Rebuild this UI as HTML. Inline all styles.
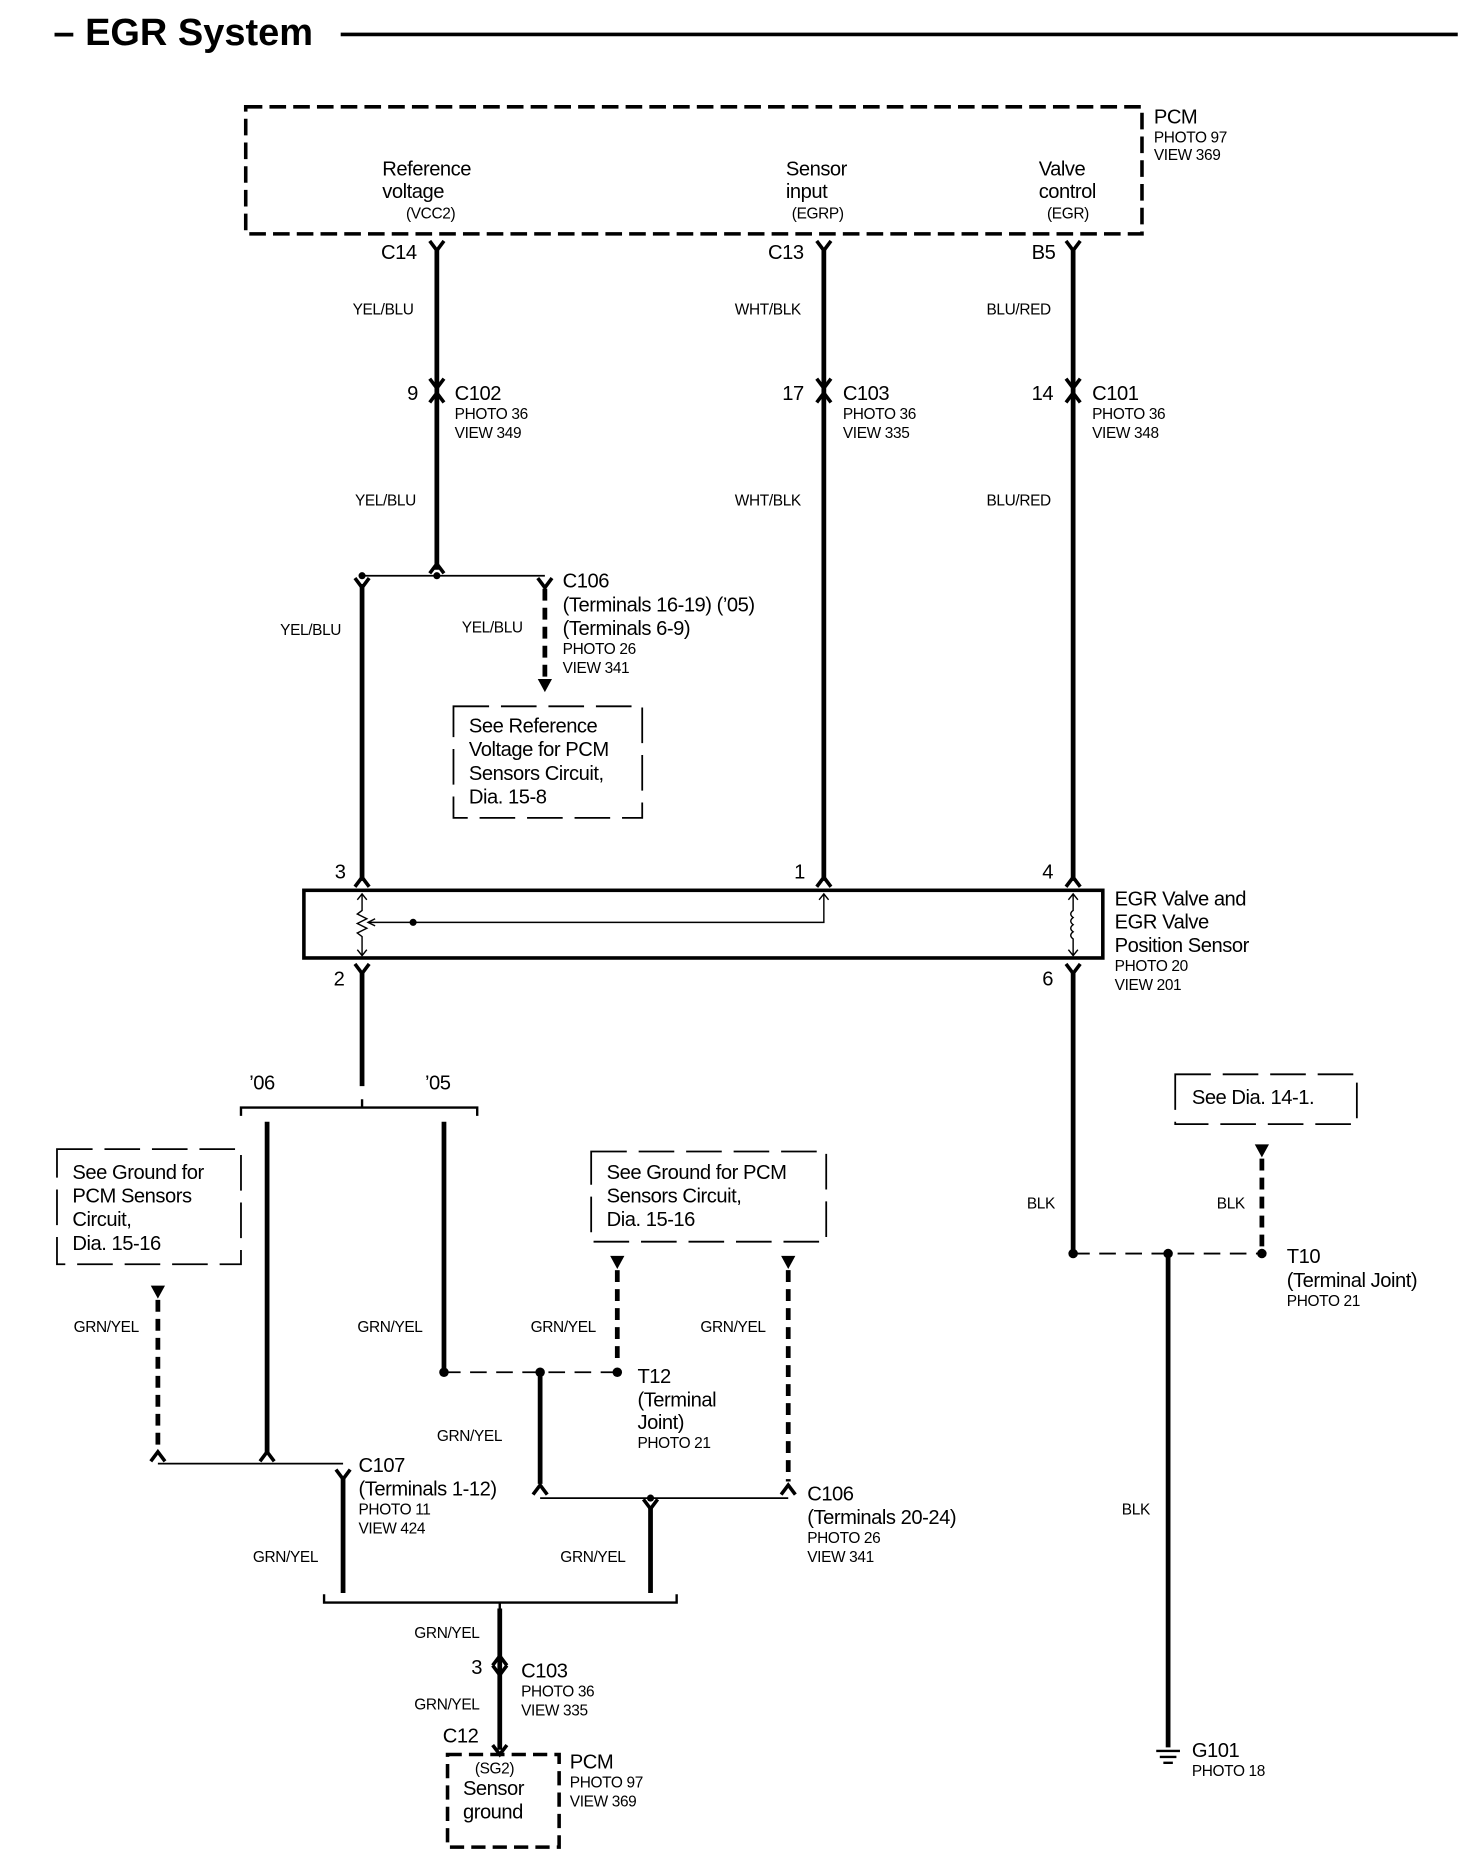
<!DOCTYPE html>
<html><head><meta charset="utf-8"><style>
html,body{margin:0;padding:0;background:#fff}
svg{display:block}
text{font-family:"Liberation Sans",Arial,sans-serif;fill:#000}
.L{font-size:17px;letter-spacing:-0.4px}.S{font-size:13px;letter-spacing:-0.3px}
</style></head><body>
<svg width="1472" height="1856" viewBox="0 0 1240 1563.5" preserveAspectRatio="none" xmlns="http://www.w3.org/2000/svg">
<defs>
<path id="fy" d="M-6,-5 L0,3 L6,-5" fill="none" stroke="#000" stroke-width="3"/>
<path id="fa" d="M-6,5 L0,-3 L6,5" fill="none" stroke="#000" stroke-width="3"/>
<path id="tri" d="M-6,0 L6,0 L0,11 Z" fill="#000"/>
</defs>
<text x="45" y="38" style="font-size:32px;font-weight:bold">– EGR System</text>
<line x1="287" y1="29" x2="1228" y2="29" stroke="#000" stroke-width="3"/>

<rect x="207" y="90" width="755" height="107" fill="none" stroke="#000" stroke-width="3" stroke-dasharray="14 6"/>
<text class="L" x="972" y="104">PCM</text><text class="S" x="972" y="120">PHOTO 97</text><text class="S" x="972" y="135">VIEW 369</text>
<text class="L" x="322" y="148">Reference</text><text class="L" x="322" y="167">voltage</text><text class="S" x="342" y="184">(VCC2)</text>
<text class="L" x="662" y="148">Sensor</text><text class="L" x="662" y="167">input</text><text class="S" x="667" y="184">(EGRP)</text>
<text class="L" x="875" y="148">Valve</text><text class="L" x="875" y="167">control</text><text class="S" x="882" y="184">(EGR)</text>

<g stroke="#000" stroke-width="4" fill="none">
<line x1="368" y1="210" x2="368" y2="480"/>
<line x1="694" y1="210" x2="694" y2="742"/>
<line x1="904" y1="210" x2="904" y2="742"/>
<line x1="305" y1="492" x2="305" y2="742"/>
<line x1="305" y1="818" x2="305" y2="915"/>
<line x1="904" y1="818" x2="904" y2="1056"/>
<line x1="225" y1="945" x2="225" y2="1225"/>
<line x1="374" y1="945" x2="374" y2="1156"/>
<line x1="455" y1="1156" x2="455" y2="1250"/>
<line x1="289" y1="1245" x2="289" y2="1342"/>
<line x1="548" y1="1270" x2="548" y2="1342"/>
<line x1="421" y1="1355" x2="421" y2="1474"/>
<line x1="984" y1="1056" x2="984" y2="1472"/>
</g>
<g stroke="#000" stroke-width="4" fill="none" stroke-dasharray="10 6">
<line x1="459" y1="496" x2="459" y2="572"/>
<line x1="133" y1="1095" x2="133" y2="1220"/>
<line x1="520" y1="1070" x2="520" y2="1150"/>
<line x1="664" y1="1070" x2="664" y2="1248"/>
<line x1="1063" y1="976" x2="1063" y2="1052"/>
</g>
<use href="#tri" x="459" y="572"/>
<use href="#tri" x="133" y="1083"/>
<use href="#tri" x="520" y="1058"/>
<use href="#tri" x="664" y="1058"/>
<use href="#tri" x="1063" y="964"/>

<use href="#fy" x="368" y="208"/><use href="#fy" x="694" y="208"/><use href="#fy" x="904" y="208"/>
<use href="#fy" x="368" y="324"/><use href="#fa" x="368" y="334"/>
<use href="#fy" x="694" y="324"/><use href="#fa" x="694" y="334"/>
<use href="#fy" x="904" y="324"/><use href="#fa" x="904" y="334"/>
<use href="#fa" x="368" y="478"/>
<use href="#fy" x="305" y="492"/><use href="#fy" x="459" y="492"/>
<use href="#fa" x="305" y="742"/><use href="#fa" x="694" y="742"/><use href="#fa" x="904" y="742"/>
<use href="#fy" x="305" y="817"/><use href="#fy" x="904" y="817"/>
<use href="#fa" x="133" y="1226"/><use href="#fa" x="225" y="1226"/>
<use href="#fy" x="289" y="1243"/>
<use href="#fa" x="455" y="1254"/><use href="#fa" x="664" y="1254"/>
<use href="#fy" x="548" y="1268"/>
<use href="#fa" x="421" y="1398"/><use href="#fy" x="421" y="1408"/>
<use href="#fy" x="421" y="1475"/>

<text class="L" x="321" y="218">C14</text><text class="L" x="647" y="218">C13</text><text class="L" x="869" y="218">B5</text>
<text class="S" x="297" y="265">YEL/BLU</text><text class="S" x="619" y="265">WHT/BLK</text><text class="S" x="831" y="265">BLU/RED</text>
<text class="L" x="343" y="337">9</text><text class="L" x="383" y="337">C102</text><text class="S" x="383" y="353">PHOTO 36</text><text class="S" x="383" y="369">VIEW 349</text>
<text class="L" x="659" y="337">17</text><text class="L" x="710" y="337">C103</text><text class="S" x="710" y="353">PHOTO 36</text><text class="S" x="710" y="369">VIEW 335</text>
<text class="L" x="869" y="337">14</text><text class="L" x="920" y="337">C101</text><text class="S" x="920" y="353">PHOTO 36</text><text class="S" x="920" y="369">VIEW 348</text>
<text class="S" x="299" y="426">YEL/BLU</text><text class="S" x="619" y="426">WHT/BLK</text><text class="S" x="831" y="426">BLU/RED</text>

<line x1="305" y1="485" x2="459" y2="485" stroke="#000" stroke-width="1.5"/>
<circle cx="305" cy="485" r="3"/><circle cx="368" cy="485" r="3"/>
<text class="L" x="474" y="495">C106</text><text class="L" x="474" y="515">(Terminals 16-19) (’05)</text><text class="L" x="474" y="535">(Terminals 6-9)</text>
<text class="S" x="474" y="551">PHOTO 26</text><text class="S" x="474" y="567">VIEW 341</text>
<text class="S" x="236" y="535">YEL/BLU</text><text class="S" x="389" y="533">YEL/BLU</text>
<rect x="382" y="595" width="159" height="94" fill="none" stroke="#000" stroke-width="1.5" stroke-dasharray="30 10"/>
<text class="L" x="395" y="617">See  Reference</text><text class="L" x="395" y="637">Voltage for PCM</text><text class="L" x="395" y="657">Sensors  Circuit,</text><text class="L" x="395" y="677">Dia. 15-8</text>

<rect x="256" y="750" width="673" height="57" fill="none" stroke="#000" stroke-width="3"/>
<text class="L" x="282" y="740">3</text><text class="L" x="669" y="740">1</text><text class="L" x="878" y="740">4</text>
<text class="L" x="281" y="830">2</text><text class="L" x="878" y="830">6</text>
<g stroke="#000" stroke-width="1.2" fill="none">
<path d="M305,753 L305,767 L301,770 L309,774 L301,778 L309,782 L301,786 L305,789 L305,805"/>
<path d="M301,758 L305,753 L309,758 M301,800 L305,805 L309,800"/>
<path d="M310,777 L694,777 L694,753 M690,758 L694,753 L698,758"/>
<path d="M316,774 L310,777 L316,780"/>
<path d="M904,753 L904,767 Q900,770 904,773 Q900,776 904,779 Q900,782 904,785 Q900,788 904,791 L904,805 M900,758 L904,753 L908,758 M900,800 L904,805 L908,800"/>
</g>
<circle cx="348" cy="777" r="3"/>
<text class="L" x="939" y="763">EGR Valve and</text><text class="L" x="939" y="782">EGR Valve</text><text class="L" x="939" y="802">Position Sensor</text>
<text class="S" x="939" y="818">PHOTO 20</text><text class="S" x="939" y="834">VIEW 201</text>

<path d="M203,940 L203,933 L402,933 L402,940 M305,933 L305,926" fill="none" stroke="#000" stroke-width="2"/>
<text class="L" x="210" y="918">’06</text><text class="L" x="358" y="918">’05</text>

<rect x="48" y="968" width="155" height="97" fill="none" stroke="#000" stroke-width="1.5" stroke-dasharray="30 10"/>
<text class="L" x="61" y="993">See Ground for</text><text class="L" x="61" y="1013">PCM Sensors</text><text class="L" x="61" y="1033">Circuit,</text><text class="L" x="61" y="1053">Dia. 15-16</text>
<rect x="498" y="970" width="198" height="76" fill="none" stroke="#000" stroke-width="1.5" stroke-dasharray="30 10"/>
<text class="L" x="511" y="993">See Ground for PCM</text><text class="L" x="511" y="1013">Sensors Circuit,</text><text class="L" x="511" y="1033">Dia. 15-16</text>

<text class="S" x="62" y="1122">GRN/YEL</text><text class="S" x="301" y="1122">GRN/YEL</text><text class="S" x="447" y="1122">GRN/YEL</text><text class="S" x="590" y="1122">GRN/YEL</text>
<line x1="374" y1="1156" x2="520" y2="1156" stroke="#000" stroke-width="1.5" stroke-dasharray="14 8"/>
<circle cx="374" cy="1156" r="4"/><circle cx="455" cy="1156" r="4"/><circle cx="520" cy="1156" r="4"/>
<text class="L" x="537" y="1165">T12</text><text class="L" x="537" y="1185">(Terminal</text><text class="L" x="537" y="1204">Joint)</text><text class="S" x="537" y="1220">PHOTO 21</text>
<text class="S" x="368" y="1214">GRN/YEL</text>
<line x1="133" y1="1233" x2="289" y2="1233" stroke="#000" stroke-width="1.5"/>
<text class="L" x="302" y="1240">C107</text><text class="L" x="302" y="1260">(Terminals 1-12)</text><text class="S" x="302" y="1276">PHOTO 11</text><text class="S" x="302" y="1292">VIEW 424</text>
<line x1="455" y1="1262" x2="664" y2="1262" stroke="#000" stroke-width="1.5"/>
<circle cx="548" cy="1262" r="3"/>
<text class="L" x="680" y="1264">C106</text><text class="L" x="680" y="1284">(Terminals 20-24)</text><text class="S" x="680" y="1300">PHOTO 26</text><text class="S" x="680" y="1316">VIEW 341</text>
<text class="S" x="213" y="1316">GRN/YEL</text><text class="S" x="472" y="1316">GRN/YEL</text>
<path d="M273,1343 L273,1350 L570,1350 L570,1343 M421,1350 L421,1357" fill="none" stroke="#000" stroke-width="2"/>
<text class="S" x="349" y="1380">GRN/YEL</text><text class="S" x="349" y="1440">GRN/YEL</text>
<text class="L" x="397" y="1410">3</text><text class="L" x="439" y="1413">C103</text><text class="S" x="439" y="1429">PHOTO 36</text><text class="S" x="439" y="1445">VIEW 335</text>
<text class="L" x="373" y="1468">C12</text>
<rect x="377" y="1478" width="94" height="78" fill="none" stroke="#000" stroke-width="3" stroke-dasharray="12 6"/>
<text class="S" x="400" y="1494">(SG2)</text><text class="L" x="390" y="1512">Sensor</text><text class="L" x="390" y="1532">ground</text>
<text class="L" x="480" y="1490">PCM</text><text class="S" x="480" y="1506">PHOTO 97</text><text class="S" x="480" y="1522">VIEW 369</text>

<text class="S" x="865" y="1018">BLK</text><text class="S" x="1025" y="1018">BLK</text>
<rect x="990" y="905" width="153" height="42" fill="none" stroke="#000" stroke-width="1.5" stroke-dasharray="30 10"/>
<text class="L" x="1004" y="930">See Dia. 14-1.</text>
<line x1="904" y1="1056" x2="1063" y2="1056" stroke="#000" stroke-width="1.5" stroke-dasharray="14 8"/>
<circle cx="904" cy="1056" r="4"/><circle cx="984" cy="1056" r="4"/><circle cx="1063" cy="1056" r="4"/>
<text class="L" x="1084" y="1064">T10</text><text class="L" x="1084" y="1084">(Terminal Joint)</text><text class="S" x="1084" y="1100">PHOTO 21</text>
<text class="S" x="945" y="1276">BLK</text>
<g stroke="#000" stroke-width="2"><line x1="974" y1="1475" x2="994" y2="1475"/><line x1="977" y1="1480" x2="991" y2="1480"/><line x1="980" y1="1485" x2="988" y2="1485"/></g>
<text class="L" x="1004" y="1480">G101</text><text class="S" x="1004" y="1496">PHOTO 18</text>
</svg>
</body></html>
